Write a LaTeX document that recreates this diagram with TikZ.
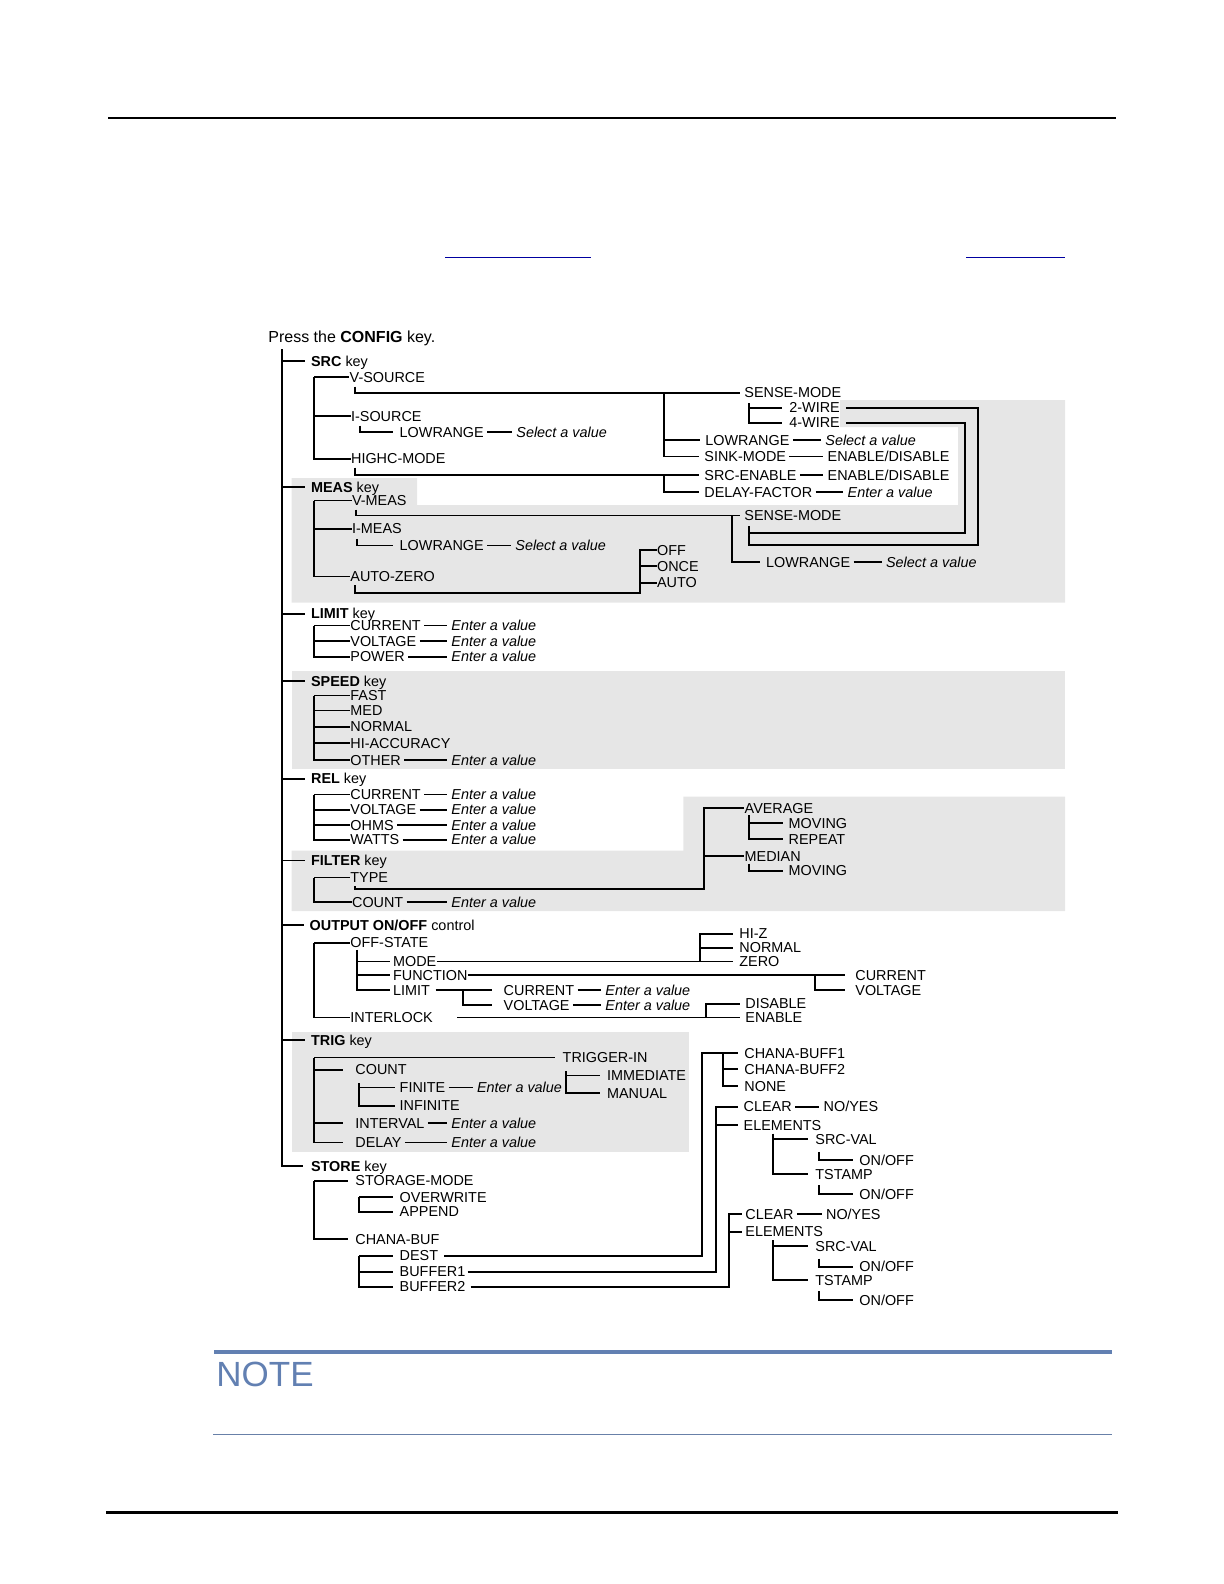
\documentclass[tikz,border=0pt]{standalone}
\usepackage{fontspec}
\setmainfont{Liberation Sans}
\usetikzlibrary{
    calc                              % aritmetica de coordenadas
}
\definecolor{menu_grey}{RGB}{230,230,230}
\definecolor{note_blue}{RGB}{98,128,178}
\definecolor{link_blue}{RGB}{0,0,160}
\tikzset{
    entry/.style={
        font=\fontsize{7.2}{8.6}\selectfont,
        inner sep=0pt, anchor=west,
        text height=5.16pt, text depth=0pt
    },
    keyname/.style={
        entry
    },
    setting/.style={
        entry, font=\fontsize{7.2}{8.6}\selectfont\itshape
    },
    wire/.style={
        line width=0.85pt
    },
    leader/.style={
        wire, shorten <=1.5pt, shorten >=2pt
    },
    band/.style={
        fill=menu_grey, draw=none
    }
}

\begin{document}
\begin{tikzpicture}[x=0.5pt, y=-0.5pt]
    \useasboundingbox (0,0) rectangle (1224,1584);

    % Fondos grises
    \fill[band] (291.5,478) -- (417,478) -- (417,505) -- (958,505) -- (958,427)
        -- (840,427) -- (840,400) -- (1065,400) -- (1065,602.5) -- (291.5,602.5) -- cycle;
    \fill[band] (291.5,671) rectangle (1065,769);
    \fill[band] (291.5,850.5) -- (683.3,850.5) -- (683.3,796.7) -- (1065,796.7)
        -- (1065,911) -- (291.5,911) -- cycle;
    \fill[band] (291.5,1031.7) rectangle (689,1151.7);

    % Reglas de la pagina
    \draw[line width=1pt] (108,118) -- (1116,118);
    \draw[link_blue, line width=0.7pt] (445,257.5) -- (591,257.5);
    \draw[link_blue, line width=0.7pt] (966,257.5) -- (1065,257.5);
    \draw[note_blue, line width=1.6pt] (214,1352) -- (1112,1352);
    \node[anchor=base west, inner sep=0pt, text=note_blue, font=\fontsize{17.5}{20}\selectfont]
        (note) at (216,1386) {NOTE};
    \draw[note_blue!80!gray, line width=0.7pt] (213,1434.3) -- (1112,1434.3);
    \draw[line width=1.6pt] (106,1512.5) -- (1118,1512.5);

    % Tronco
    \node[anchor=base west, inner sep=0pt, font=\fontsize{8}{9.6}\selectfont]
        (title) at (268,342.7) {Press the \textbf{CONFIG} key.};
    \coordinate (trunk) at (282,349);
    \coordinate (sb) at (314.3,0);
    \coordinate (cb) at (359.3,0);

    % SRC
    \node[keyname] (srckey) at (310.7,361) {\textbf{SRC} key};
    \node[entry] (vsrc) at (349.3,377) {V-SOURCE};
    \node[entry] (isrc) at (350.7,416) {I-SOURCE};
    \node[entry] (srclow) at (399.3,432) {LOWRANGE};
    \node[setting] (srclowv) at (516,432) {Select a value};
    \node[entry] (highc) at (350.7,458.8) {HIGHC-MODE};
    \node[entry] (sense1) at (744,392.7) {SENSE-MODE};
    \node[entry] (wire2) at (789,407.7) {2-WIRE};
    \node[entry] (wire4) at (789,422.7) {4-WIRE};
    \node[entry] (vlow) at (705,440) {LOWRANGE};
    \node[setting] (vlowv) at (825,440) {Select a value};
    \node[entry] (sink) at (704,456.5) {SINK-MODE};
    \node[entry] (sinkv) at (827.3,456.5) {ENABLE/DISABLE};
    \node[entry] (srcen) at (704,475) {SRC-ENABLE};
    \node[entry] (srcenv) at (827.3,475) {ENABLE/DISABLE};
    \node[entry] (delay) at (704,492.3) {DELAY-FACTOR};
    \node[setting] (delayv) at (847.3,492.3) {Enter a value};

    \draw[wire] (sb |- vsrc.west) |- (highc.west);
    \foreach \n in {vsrc,isrc}
        \draw[wire] (sb |- \n.west) -- (\n.west);
    \draw[wire] ($(vsrc.south west)+(5.7,4)$) |- ([xshift=-2pt]sense1.west);
    \coordinate (vb) at (664,0);
    \draw[wire] (vb |- sense1.west) |- ([xshift=-2.5pt]sink.west);
    \draw[wire] (vb |- vlow.west) -- ([xshift=-2.5pt]vlow.west);
    \coordinate (smb) at (749,0);
    \draw[wire] ($(smb |- sense1.south)+(0,5)$) |- ([xshift=-3.5pt]wire4.west);
    \draw[wire] (smb |- wire2.west) -- ([xshift=-3.5pt]wire2.west);
    \draw[wire] ($(isrc.south west)+(9.3,4)$) |- ([xshift=-3pt]srclow.west);
    \draw[wire] ($(highc.south west)+(4.3,3.2)$) |- ([xshift=-2.5pt]srcen.west);
    \draw[wire] (vb |- srcen.west) |- ([xshift=-2.5pt]delay.west);
    \foreach \a/\b in {srclow/srclowv, vlow/vlowv, sink/sinkv, srcen/srcenv, delay/delayv}
        \draw[leader] (\a.east) -- (\b.west);

    % MEAS
    \node[keyname] (measkey) at (310.7,487) {\textbf{MEAS} key};
    \node[entry] (vmeas) at (351.7,500.5) {V-MEAS};
    \node[entry] (sense2) at (744,515.5) {SENSE-MODE};
    \node[entry] (mlow2) at (765.7,562) {LOWRANGE};
    \node[setting] (mlow2v) at (885.7,562) {Select a value};
    \node[entry] (imeas) at (351.7,528.7) {I-MEAS};
    \node[entry] (mlow) at (399.3,545.5) {LOWRANGE};
    \node[setting] (mlowv) at (515,545.5) {Select a value};
    \node[entry] (azero) at (350,576.5) {AUTO-ZERO};
    \node[entry] (azoff) at (656.7,550) {OFF};
    \node[entry] (azonce) at (656.7,566) {ONCE};
    \node[entry] (azauto) at (656.7,582.7) {AUTO};

    \draw[wire] (sb |- vmeas.west) |- (azero.west);
    \foreach \n in {vmeas,imeas}
        \draw[wire] (sb |- \n.west) -- (\n.west);
    \draw[wire] ($(vmeas.south west)+(4.3,3.5)$) |- ([xshift=-2pt]sense2.west);
    \coordinate (mb) at (732,0);
    \draw[wire] (mb |- sense2.west) |- ([xshift=-2.8pt]mlow2.west);
    \draw[wire] ([xshift=2.8pt]wire2.east) -| (978.3,545) -| ($(smb |- sense2.south)+(0,5)$);
    \draw[wire] ([xshift=2.8pt]wire4.east) -| (965,532.7) -- (749,532.7);
    \draw[wire] ($(imeas.south west)+(5,4.5)$) |- ([xshift=-3pt]mlow.west);
    \coordinate (ab) at (640,0);
    \draw[wire] ($(azero.south west)+(5,3.1)$) |- (640,592.7) |- (azoff.west);
    \draw[wire] (ab |- azonce.west) -- (azonce.west);
    \draw[wire] (ab |- azauto.west) -- (azauto.west);
    \foreach \a/\b in {mlow/mlowv, mlow2/mlow2v}
        \draw[leader] (\a.east) -- (\b.west);

    % LIMIT
    \node[keyname] (limkey) at (310.7,613.8) {\textbf{LIMIT} key};
    \node[entry] (lcur) at (350,625.5) {CURRENT};
    \node[setting] (lcurv) at (451,625.5) {Enter a value};
    \node[entry] (lvolt) at (350,641) {VOLTAGE};
    \node[setting] (lvoltv) at (451,641) {Enter a value};
    \node[entry] (lpow) at (350,656.8) {POWER};
    \node[setting] (lpowv) at (451,656.8) {Enter a value};

    \draw[wire] (sb |- lcur.west) |- (lpow.west);
    \foreach \n in {lcur,lvolt}
        \draw[wire] (sb |- \n.west) -- (\n.west);
    \foreach \a/\b in {lcur/lcurv, lvolt/lvoltv, lpow/lpowv}
        \draw[leader] (\a.east) -- (\b.west);

    % SPEED
    \node[keyname] (spdkey) at (310.7,681.3) {\textbf{SPEED} key};
    \node[entry] (fast) at (350,695.5) {FAST};
    \node[entry] (med) at (350,710.5) {MED};
    \node[entry] (normal) at (350,726.7) {NORMAL};
    \node[entry] (hiacc) at (350,743.3) {HI-ACCURACY};
    \node[entry] (other) at (350,760.3) {OTHER};
    \node[setting] (otherv) at (451,760.3) {Enter a value};

    \draw[wire] (sb |- fast.west) |- (other.west);
    \foreach \n in {fast,med,normal,hiacc}
        \draw[wire] (sb |- \n.west) -- (\n.west);
    \draw[leader] (other.east) -- (otherv.west);

    % REL
    \node[keyname] (relkey) at (310.7,778.7) {\textbf{REL} key};
    \node[entry] (rcur) at (350,794.5) {CURRENT};
    \node[setting] (rcurv) at (451,794.5) {Enter a value};
    \node[entry] (rvolt) at (350,809.8) {VOLTAGE};
    \node[setting] (rvoltv) at (451,809.8) {Enter a value};
    \node[entry] (rohm) at (350,825.3) {OHMS};
    \node[setting] (rohmv) at (451,825.3) {Enter a value};
    \node[entry] (rwatt) at (350,839.8) {WATTS};
    \node[setting] (rwattv) at (451,839.8) {Enter a value};

    \draw[wire] (sb |- rcur.west) |- (rwatt.west);
    \foreach \n in {rcur,rvolt,rohm}
        \draw[wire] (sb |- \n.west) -- (\n.west);
    \foreach \a/\b in {rcur/rcurv, rvolt/rvoltv, rohm/rohmv, rwatt/rwattv}
        \draw[leader] (\a.east) -- (\b.west);

    % FILTER
    \node[keyname] (filtkey) at (310.7,860.5) {\textbf{FILTER} key};
    \node[entry] (ftype) at (350,877.5) {TYPE};
    \node[entry] (fcount) at (351.7,902.2) {COUNT};
    \node[setting] (fcountv) at (451,902.2) {Enter a value};
    \node[entry] (average) at (744.3,808.3) {AVERAGE};
    \node[entry] (amov) at (788.3,823.3) {MOVING};
    \node[entry] (arep) at (788.3,839.3) {REPEAT};
    \node[entry] (median) at (744.3,856) {MEDIAN};
    \node[entry] (mmov) at (788.3,870.7) {MOVING};

    \draw[wire] (sb |- ftype.west) |- (fcount.west);
    \draw[wire] (sb |- ftype.west) -- (ftype.west);
    \draw[wire] ($(ftype.south west)+(5,3.3)$) |- (704,889.3) |- (average.west);
    \coordinate (fb) at (704,0);
    \draw[wire] (fb |- median.west) -- (median.west);
    \coordinate (avb) at (749.3,0);
    \draw[wire] ($(avb |- average.south)+(0,1.5)$) |- ([xshift=-2.5pt]arep.west);
    \draw[wire] (avb |- amov.west) -- ([xshift=-2.5pt]amov.west);
    \draw[wire] ($(avb |- median.south)+(0,2)$) |- ([xshift=-2.5pt]mmov.west);
    \draw[leader] (fcount.east) -- (fcountv.west);

    % OUTPUT ON/OFF
    \node[keyname] (outkey) at (309.3,925) {\textbf{OUTPUT ON/OFF} control};
    \node[entry] (offst) at (350,942.8) {OFF-STATE};
    \node[entry] (omode) at (392.7,961.5) {MODE};
    \node[entry] (ofunc) at (392.7,975.3) {FUNCTION};
    \node[entry] (olim) at (392.7,990) {LIMIT};
    \node[entry] (hiz) at (739,933.8) {HI-Z};
    \node[entry] (onorm) at (739,947.8) {NORMAL};
    \node[entry] (ozero) at (739,961.5) {ZERO};
    \node[entry] (fcur) at (855,975.3) {CURRENT};
    \node[entry] (fvolt) at (855,990) {VOLTAGE};
    \node[entry] (lcur2) at (503.3,990) {CURRENT};
    \node[setting] (lcur2v) at (605,990) {Enter a value};
    \node[entry] (lvolt2) at (503.3,1005) {VOLTAGE};
    \node[setting] (lvolt2v) at (605,1005) {Enter a value};
    \node[entry] (ilock) at (350,1017.5) {INTERLOCK};
    \node[entry] (disable) at (745,1003.8) {DISABLE};
    \node[entry] (enable) at (745,1017.5) {ENABLE};

    \draw[wire] (sb |- offst.west) |- (ilock.west);
    \draw[wire] (sb |- offst.west) -- (offst.west);
    \coordinate (ob) at (356.7,0);
    \draw[wire] ($(ob |- offst.south)+(0,1.4)$) |- ([xshift=-1.3pt]olim.west);
    \draw[wire] (ob |- omode.west) -- ([xshift=-1.3pt]omode.west);
    \draw[wire] (ob |- ofunc.west) -- ([xshift=-1.3pt]ofunc.west);
    \draw[wire] (omode.east) -- ([xshift=-3.1pt]ozero.west);
    \coordinate (zb) at (700,0);
    \draw[wire] (zb |- ozero.west) |- ([xshift=-3.1pt]hiz.west);
    \draw[wire] (zb |- onorm.west) -- ([xshift=-3.1pt]onorm.west);
    \draw[wire] (ofunc.east) -- ([xshift=-5pt]fcur.west);
    \coordinate (fcb) at (815,0);
    \draw[wire] (fcb |- fcur.west) |- ([xshift=-5pt]fvolt.west);
    \draw[wire] ([xshift=2.7pt]olim.east) -- ([xshift=-5.8pt]lcur2.west);
    \coordinate (lb) at (462.7,0);
    \draw[wire] (lb |- lcur2.west) |- ([xshift=-5.8pt]lvolt2.west);
    \draw[wire] ([xshift=12pt]ilock.east) -- ([xshift=-2.5pt]enable.west);
    \coordinate (ib) at (706,0);
    \draw[wire] (ib |- enable.west) |- ([xshift=-2.5pt]disable.west);
    \foreach \a/\b in {lcur2/lcur2v, lvolt2/lvolt2v}
        \draw[leader] (\a.east) -- (\b.west);

    % TRIG
    \node[keyname] (trigkey) at (310.7,1040) {\textbf{TRIG} key};
    \node[entry] (trigin) at (562.3,1057.5) {TRIGGER-IN};
    \node[entry] (immed) at (606.7,1075.5) {IMMEDIATE};
    \node[entry] (manual) at (606.7,1093) {MANUAL};
    \node[entry] (tcount) at (355,1069.8) {COUNT};
    \node[entry] (finite) at (399.3,1087.5) {FINITE};
    \node[setting] (finitev) at (476.7,1087.5) {Enter a value};
    \node[entry] (infinite) at (399.3,1105.8) {INFINITE};
    \node[entry] (interval) at (355,1123) {INTERVAL};
    \node[setting] (intervalv) at (451,1123) {Enter a value};
    \node[entry] (tdelay) at (355,1142.5) {DELAY};
    \node[setting] (tdelayv) at (451,1142.5) {Enter a value};

    \draw[wire] (sb |- trigin.west) |- ([xshift=-6pt]tdelay.west);
    \draw[wire] (sb |- trigin.west) -- ([xshift=-3.6pt]trigin.west);
    \foreach \n in {tcount,interval}
        \draw[wire] (sb |- \n.west) -- ([xshift=-6pt]\n.west);
    \coordinate (tb) at (566,0);
    \draw[wire] ($(tb |- trigin.south)+(0,8)$) |- ([xshift=-3.3pt]manual.west);
    \draw[wire] (tb |- immed.west) -- ([xshift=-3.3pt]immed.west);
    \draw[wire] ($(cb |- tcount.south)+(0,8)$) |- ([xshift=-2.2pt]infinite.west);
    \draw[wire] (cb |- finite.west) -- ([xshift=-2.2pt]finite.west);
    \foreach \a/\b in {finite/finitev, interval/intervalv, tdelay/tdelayv}
        \draw[leader] (\a.east) -- (\b.west);

    % STORE
    \node[keyname] (storekey) at (310.7,1166) {\textbf{STORE} key};
    \node[entry] (stmode) at (355,1180.7) {STORAGE-MODE};
    \node[entry] (overwr) at (399.3,1197.3) {OVERWRITE};
    \node[entry] (append) at (399.3,1211.7) {APPEND};
    \node[entry] (chbuf) at (355,1239) {CHANA-BUF};
    \node[entry] (dest) at (399.3,1255.7) {DEST};
    \node[entry] (buf1) at (399.3,1271.7) {BUFFER1};
    \node[entry] (buf2) at (399.3,1286.7) {BUFFER2};
    \node[entry] (cbuf1) at (744,1053.3) {CHANA-BUFF1};
    \node[entry] (cbuf2) at (744,1069.3) {CHANA-BUFF2};
    \node[entry] (cnone) at (744,1086) {NONE};
    \node[entry] (clear1) at (743.3,1106.7) {CLEAR};
    \node[entry] (clear1v) at (823.3,1106.7) {NO/YES};
    \node[entry] (elem1) at (743.3,1125) {ELEMENTS};
    \node[entry] (srcval1) at (815,1139.3) {SRC-VAL};
    \node[entry] (onoff1) at (859,1160) {ON/OFF};
    \node[entry] (tstamp1) at (815,1174.3) {TSTAMP};
    \node[entry] (onoff2) at (859,1194.3) {ON/OFF};
    \node[entry] (clear2) at (745,1214) {CLEAR};
    \node[entry] (clear2v) at (825.7,1214) {NO/YES};
    \node[entry] (elem2) at (745,1231.7) {ELEMENTS};
    \node[entry] (srcval2) at (815,1246) {SRC-VAL};
    \node[entry] (onoff3) at (859,1266.7) {ON/OFF};
    \node[entry] (tstamp2) at (815,1280) {TSTAMP};
    \node[entry] (onoff4) at (859,1300) {ON/OFF};

    \draw[wire] (trunk) |- ([xshift=-3.7pt]storekey.west);
    \foreach \k in {srckey,measkey,limkey,spdkey,relkey,filtkey,outkey,trigkey}
        \draw[wire] (trunk |- \k.west) -- ([xshift=-2.8pt]\k.west);
    \draw[wire] (sb |- stmode.west) |- ([xshift=-3.3pt]chbuf.west);
    \draw[wire] (sb |- stmode.west) -- ([xshift=-3.3pt]stmode.west);
    \draw[wire] (cb |- overwr.west) |- ([xshift=-3pt]append.west);
    \draw[wire] (cb |- overwr.west) -- ([xshift=-3pt]overwr.west);
    \draw[wire] (cb |- dest.west) |- ([xshift=-3pt]buf2.west);
    \foreach \n in {dest,buf1}
        \draw[wire] (cb |- \n.west) -- ([xshift=-3pt]\n.west);

    % Destinos de los buffers
    \draw[wire] ([xshift=2.8pt]dest.east) -| (702.3,1053.3) -- ([xshift=-2.8pt]cbuf1.west);
    \coordinate (db) at (723.3,0);
    \draw[wire] (db |- cbuf1.west) |- ([xshift=-2.8pt]cnone.west);
    \draw[wire] (db |- cbuf2.west) -- ([xshift=-2.8pt]cbuf2.west);
    \draw[wire] ([xshift=1pt]buf1.east) -| (716,1106.7) -- ([xshift=-2.5pt]clear1.west);
    \coordinate (e1b) at (716,0);
    \draw[wire] (e1b |- elem1.west) -- ([xshift=-2.5pt]elem1.west);
    \coordinate (eb) at (772.7,0);
    \draw[wire] ($(eb |- elem1.south)+(0,3)$) |- ([xshift=-3.3pt]tstamp1.west);
    \draw[wire] (eb |- srcval1.west) -- ([xshift=-3.3pt]srcval1.west);
    \draw[wire] ($(srcval1.south west)+(4.3,7)$) |- ([xshift=-2.8pt]onoff1.west);
    \draw[wire] ($(tstamp1.south west)+(4.3,5.5)$) |- ([xshift=-2.8pt]onoff2.west);
    \draw[wire] ([xshift=2.5pt]buf2.east) -| (729.3,1214) -- ([xshift=-1.6pt]clear2.west);
    \coordinate (e2b) at (729.3,0);
    \draw[wire] (e2b |- elem2.west) -- ([xshift=-1.6pt]elem2.west);
    \draw[wire] ($(eb |- elem2.south)+(0,3)$) |- ([xshift=-3.3pt]tstamp2.west);
    \draw[wire] (eb |- srcval2.west) -- ([xshift=-3.3pt]srcval2.west);
    \draw[wire] ($(srcval2.south west)+(4.3,7)$) |- ([xshift=-2.8pt]onoff3.west);
    \draw[wire] ($(tstamp2.south west)+(4.3,5.5)$) |- ([xshift=-2.8pt]onoff4.west);
    \foreach \a/\b in {clear1/clear1v, clear2/clear2v}
        \draw[leader] (\a.east) -- (\b.west);

\end{tikzpicture}
\end{document}
